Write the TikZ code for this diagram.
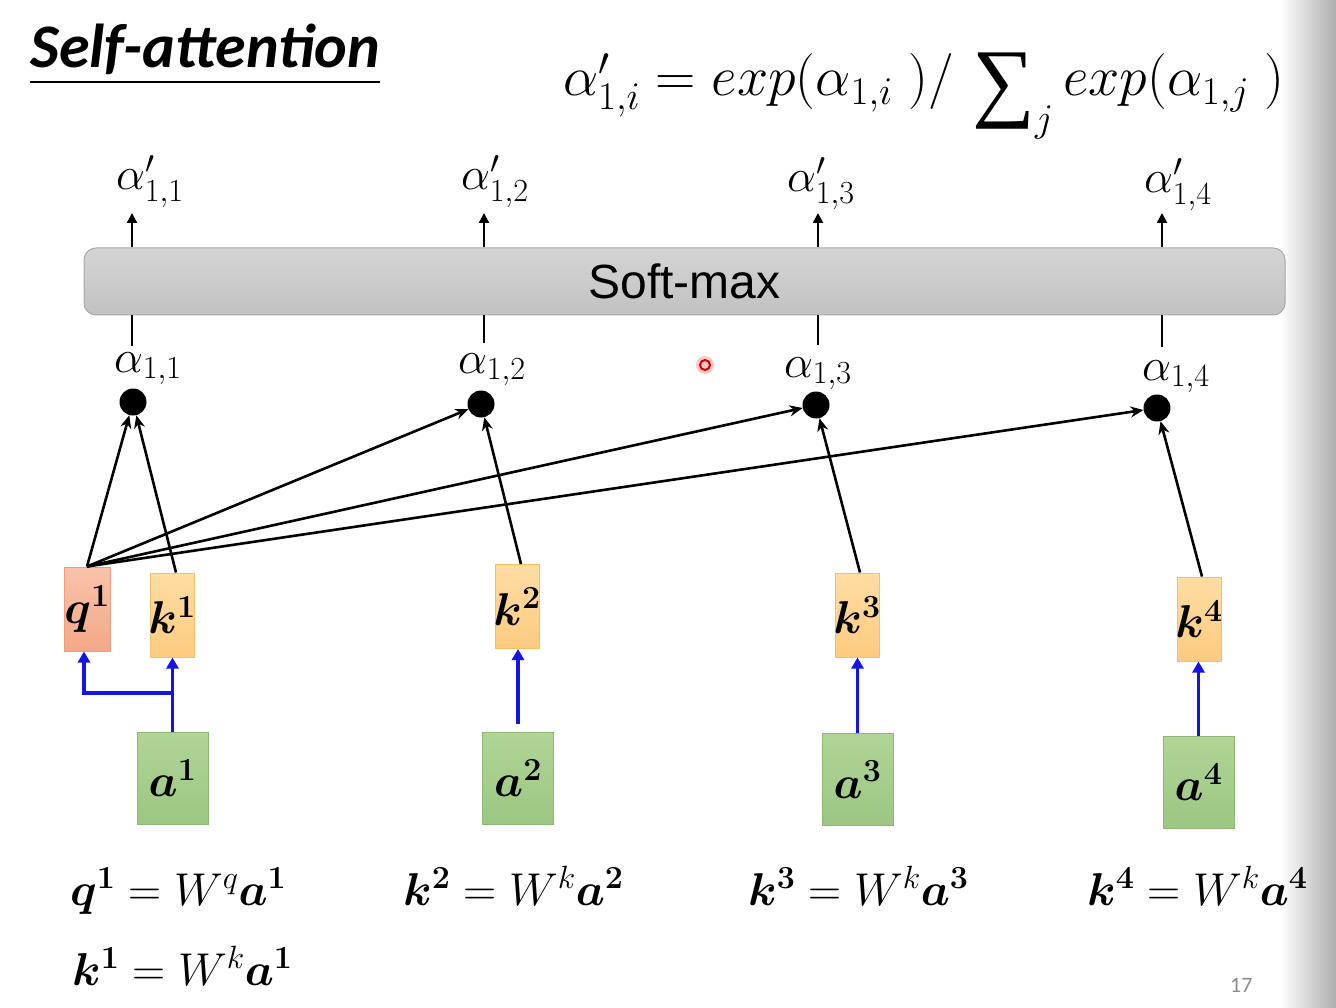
\RequirePackage{fix-cm}
\documentclass[tikz,border=0pt]{standalone}
\usepackage{fontspec}
\usepackage{amsmath}
\usepackage{bm}
\setsansfont{Liberation Sans}
\newfontfamily\calibri{Carlito}
\newfontfamily\sumfont{Liberation Serif}
\usetikzlibrary{arrows.meta}
\usetikzlibrary{positioning}
\usetikzlibrary{calc}
\definecolor{qtop}{HTML}{F9C3AA}
\definecolor{qbot}{HTML}{F4A888}
\definecolor{qline}{HTML}{EE9E7C}
\definecolor{ktop}{HTML}{FFDCA3}
\definecolor{kbot}{HTML}{FDCB7F}
\definecolor{kline}{HTML}{F6C062}
\definecolor{atop}{HTML}{B0D597}
\definecolor{abot}{HTML}{9CC682}
\definecolor{aline}{HTML}{8CB972}
\definecolor{smtop}{HTML}{D4D4D4}
\definecolor{smbot}{HTML}{C2C2C2}
\definecolor{smline}{HTML}{A8A8A8}
\definecolor{projblue}{HTML}{1414E6}
\newcommand{\bigfont}{\fontsize{46}{46}\selectfont}
\newcommand{\bigsum}{\mathop{\lower15pt\hbox{\sumfont\fontsize{88}{88}\selectfont ∑}}\nolimits}
\tikzset{
    vecbox/.style={draw, line width=1pt, inner sep=0pt, minimum width=44pt,
            minimum height=84pt, font=\bigfont},
    qbox/.style={vecbox, draw=qline, top color=qtop, bottom color=qbot, minimum width=46pt},
    kbox/.style={vecbox, draw=kline, top color=ktop, bottom color=kbot},
    abox/.style={vecbox, draw=aline, top color=atop, bottom color=abot,
            minimum width=71pt, minimum height=92pt},
    smbox/.style={draw=smline, line width=1pt, rounded corners=12pt, top color=smtop,
            bottom color=smbot, minimum width=1201pt, minimum height=67pt,
            font=\sffamily\fontsize{48}{48}\selectfont},
    score/.style={circle, fill=black, inner sep=0pt, minimum size=27pt},
    lbl/.style={anchor=base west, inner sep=0pt, font=\bigfont},
    wire/.style={line width=2.6pt},
    attn/.style={wire, -{Stealth[length=13pt,width=11pt]}},
    up/.style={wire, -{Triangle[length=10pt,width=10pt]}},
    proj/.style={line width=3.6pt, projblue, -{Triangle[length=11pt,width=12pt]}}
}

\begin{document}
\begin{tikzpicture}[x=1pt, y=-1pt]
    \useasboundingbox (0,0) rectangle (1336,1008);
    \fill[white] (0,0) rectangle (1336,1008);
    \shade[left color=white, right color=black!32] (1280,0) rectangle (1336,1008);

    % title and formula
    \node[anchor=base west, inner sep=0pt, font=\calibri\bfseries\itshape\fontsize{62}{62}\selectfont]
        (title) at (30,68) {Self-attention};
    \draw[line width=2pt] ($(title.base west)+(0,14)$) -- ($(title.base east)+(0,14)$);
    \node[lbl, font=\fontsize{56}{56}\selectfont] (softmaxdef) at (563,96)
        {$\alpha'_{1,i} = exp(\alpha_{1,i}\;)/\,\bigsum_{j} exp(\alpha_{1,j}\;)$};

    % soft-max layer
    \node[smbox] (sm) at (684.5,281.5) {Soft-max};
    \node[lbl] (ap1) at (116,190) {$\alpha'_{1,1}$};
    \node[lbl] (ap2) at (461,190) {$\alpha'_{1,2}$};
    \node[lbl] (ap3) at (787,192) {$\alpha'_{1,3}$};
    \node[lbl] (ap4) at (1144,193) {$\alpha'_{1,4}$};
    \node[lbl] (al1) at (114,372) {$\alpha_{1,1}$};
    \node[lbl] (al2) at (458,373) {$\alpha_{1,2}$};
    \node[lbl] (al3) at (784,377) {$\alpha_{1,3}$};
    \node[lbl] (al4) at (1142,380) {$\alpha_{1,4}$};
    \coordinate (t1) at (132,213);
    \coordinate (t2) at (484,213);
    \coordinate (t3) at (818,213);
    \coordinate (t4) at (1162,213);
    \coordinate (b1) at (132,346);
    \coordinate (b2) at (484,343);
    \coordinate (b3) at (818,345);
    \coordinate (b4) at (1162,347);
    \draw[up] (sm.north -| t1) -- (t1);
    \draw[up] (sm.north -| t2) -- (t2);
    \draw[up] (sm.north -| t3) -- (t3);
    \draw[up] (sm.north -| t4) -- (t4);
    \draw[wire] (sm.south -| b1) -- (b1);
    \draw[wire] (sm.south -| b2) -- (b2);
    \draw[wire] (sm.south -| b3) -- (b3);
    \draw[wire] (sm.south -| b4) -- (b4);

    % attention scores
    \node[score] (s1) at (133,402) {};
    \node[score] (s2) at (481,404) {};
    \node[score] (s3) at (816,405) {};
    \node[score] (s4) at (1157,408) {};

    % query and keys
    \node[qbox] (q1) at (87,609) {\makebox[0pt]{$\bm{q}^{\bm{1}}$}};
    \node[kbox] (k1) at (172,615) {\makebox[0pt]{$\bm{k}^{\bm{1}}$}};
    \node[kbox] (k2) at (517,606.5) {\makebox[0pt]{$\bm{k}^{\bm{2}}$}};
    \node[kbox] (k3) at (857,615) {\makebox[0pt]{$\bm{k}^{\bm{3}}$}};
    \node[kbox] (k4) at (1199,619) {\makebox[0pt]{$\bm{k}^{\bm{4}}$}};

    % inputs
    \node[abox] (a1) at (172.5,778) {$\bm{a}^{\bm{1}}$};
    \node[abox] (a2) at (518,778) {$\bm{a}^{\bm{2}}$};
    \node[abox] (a3) at (857.5,779.5) {$\bm{a}^{\bm{3}}$};
    \node[abox] (a4) at (1198.5,782) {$\bm{a}^{\bm{4}}$};

    \path (q1.north) edge[attn] (s1) edge[attn] (s2) edge[attn] (s3) edge[attn] (s4);
    \draw[attn] ([xshift=4pt]k1.north) -- (s1);
    \draw[attn] ([xshift=4pt]k2.north) -- (s2);
    \draw[attn] ([xshift=3pt]k3.north) -- (s3);
    \draw[attn] ([xshift=3pt]k4.north) -- (s4);

    \coordinate (br1) at (172.5,693);
    \draw[proj] (a1.north) -- (a1.north |- k1.south);
    \draw[proj] (br1) -| ([xshift=-3pt]q1.south);
    \draw[proj, shorten <=8pt] (a2.north) -- (a2.north |- k2.south);
    \draw[proj] (a3.north) -- (a3.north |- k3.south);
    \draw[proj] (a4.north) -- (a4.north |- k4.south);

    % projections
    \node[lbl] (eq1) at (70,905) {$\bm{q}^{\bm{1}} = W^{q}\bm{a}^{\bm{1}}$};
    \node[lbl] (eq2) at (72,985) {$\bm{k}^{\bm{1}} = W^{k}\bm{a}^{\bm{1}}$};
    \node[lbl] (eq3) at (403,905) {$\bm{k}^{\bm{2}} = W^{k}\bm{a}^{\bm{2}}$};
    \node[lbl] (eq4) at (748,905) {$\bm{k}^{\bm{3}} = W^{k}\bm{a}^{\bm{3}}$};
    \node[lbl] (eq5) at (1087,905) {$\bm{k}^{\bm{4}} = W^{k}\bm{a}^{\bm{4}}$};

    \node[anchor=base west, inner sep=0pt, text=black!45, font=\calibri\fontsize{22}{22}\selectfont]
        (page) at (1230,992) {17};
    % laser pointer
    \fill[red!30, opacity=0.7] (705,365) circle (9pt);
    \draw[red!85!black, line width=2pt] (705,365) circle (5pt);
\end{tikzpicture}
\end{document}
